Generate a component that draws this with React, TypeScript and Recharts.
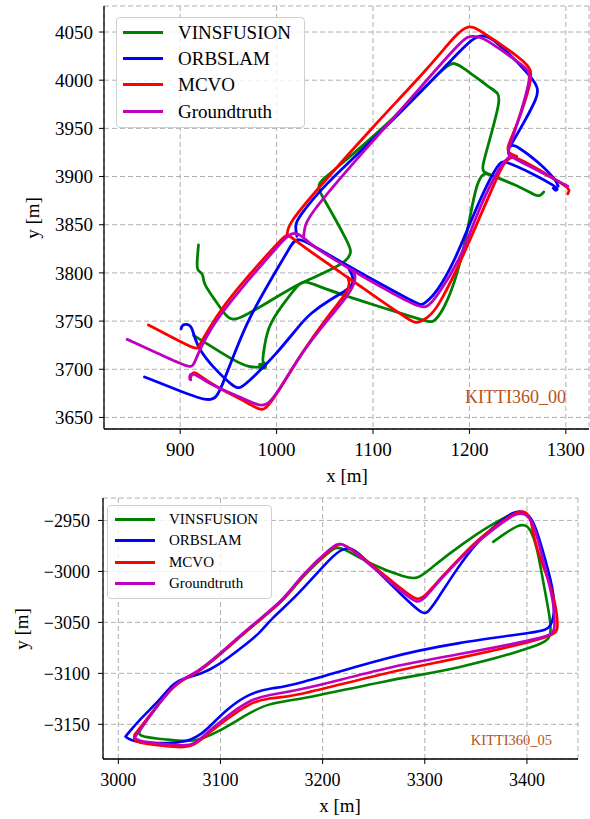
import { LineChart, Line, XAxis, YAxis, CartesianGrid, Legend } from 'recharts'

const FONT = '"Liberation Serif", "Times New Roman", serif'

type Pt = [number, number]

const SERIES_NAMES = ['VINSFUSION', 'ORBSLAM', 'MCVO', 'Groundtruth']
const SERIES_COLORS = ['#008000', '#0000ff', '#ff0000', '#bf00bf']
const TAG_COLOR = '#b5531c'

// ── KITTI360_00 : x / y in metres, one array per drawn stretch ──
const vins00: Pt[][] = [
  [[919, 3829], [918, 3818], [917, 3803], [921, 3801], [924, 3798], [924, 3789], [934, 3775], [948, 3754], [955, 3751], [965, 3754], [995, 3772], [1024, 3789], [1034, 3793], [1062, 3806], [1073, 3813], [1078, 3822], [1075, 3830], [1052, 3872], [1045, 3883], [1043, 3892], [1048, 3897], [1055, 3903], [1117, 3955], [1176, 4016], [1183, 4018], [1190, 4016], [1221, 3992], [1230, 3987], [1232, 3979], [1221, 3938], [1213, 3910], [1214, 3905], [1221, 3902], [1256, 3888], [1268, 3880], [1274, 3880], [1277, 3884]],
  [[914, 3735], [943, 3717], [972, 3699], [996, 3705], [976, 3706], [994, 3702], [979, 3700], [990, 3706], [985, 3707], [986, 3713], [990, 3744], [1007, 3768], [1021, 3786], [1028, 3793], [1048, 3784], [1100, 3767], [1145, 3753], [1159, 3749], [1163, 3749], [1173, 3761], [1186, 3793], [1196, 3834], [1203, 3871], [1208, 3893], [1214, 3904], [1221, 3902]],
]
const orb00: Pt[][] = [
  [[863, 3692], [896, 3679], [929, 3666], [938, 3671], [943, 3682], [955, 3713], [969, 3748], [986, 3779], [1000, 3803], [1014, 3827], [1021, 3838], [1038, 3828], [1073, 3808], [1107, 3789], [1142, 3770], [1149, 3767], [1152, 3767], [1166, 3779], [1185, 3813], [1201, 3853], [1219, 3894], [1232, 3916], [1237, 3916], [1266, 3903], [1289, 3890], [1292, 3887], [1289, 3885], [1287, 3888]],
  [[1021, 3838], [1019, 3850], [1023, 3858], [1048, 3890], [1100, 3938], [1152, 3990], [1183, 4023], [1204, 4044], [1213, 4047], [1225, 4044], [1266, 4002], [1271, 3992], [1271, 3983], [1256, 3955], [1242, 3931], [1240, 3928], [1243, 3933], [1249, 3932], [1273, 3914], [1290, 3896], [1292, 3890]],
  [[901, 3742], [902, 3746], [907, 3747], [911, 3745], [913, 3740], [915, 3733], [920, 3720], [934, 3702], [955, 3682], [962, 3679], [976, 3692], [1000, 3716], [1024, 3746], [1035, 3758], [1055, 3772], [1073, 3782], [1080, 3789], [1079, 3797], [1074, 3806]],
]
const mcvo00: Pt[][] = [
  [[867, 3746], [892, 3733], [917, 3720], [919, 3723], [929, 3741], [943, 3763], [963, 3788], [984, 3812], [1004, 3834], [1011, 3840], [1014, 3838], [1038, 3820], [1073, 3796], [1107, 3772], [1135, 3753], [1142, 3749], [1146, 3748], [1156, 3753], [1166, 3762], [1187, 3803], [1209, 3854], [1229, 3900], [1235, 3913], [1242, 3920], [1249, 3921], [1301, 3890], [1304, 3886], [1302, 3882]],
  [[1011, 3840], [1012, 3851], [1045, 3890], [1100, 3952], [1159, 4014], [1187, 4049], [1199, 4057], [1208, 4054], [1256, 4021], [1265, 4011], [1263, 3994], [1249, 3952], [1239, 3931], [1240, 3924], [1249, 3921]],
  [[910, 3690], [912, 3694], [914, 3699], [931, 3685], [965, 3668], [983, 3657], [990, 3659], [1007, 3685], [1024, 3714], [1055, 3758], [1073, 3779], [1076, 3789], [1074, 3795]],
]
const gt00: Pt[][] = [
  [[845, 3731], [878, 3716], [910, 3701], [914, 3704], [920, 3720], [931, 3741], [945, 3761], [965, 3786], [986, 3810], [1004, 3831], [1013, 3840], [1020, 3842], [1028, 3837], [1038, 3827], [1073, 3806], [1107, 3786], [1149, 3763], [1157, 3765], [1166, 3775], [1190, 3813], [1205, 3854], [1221, 3891], [1235, 3915], [1241, 3920]],
  [[1028, 3837], [1029, 3848], [1034, 3860], [1073, 3907], [1128, 3968], [1192, 4042], [1200, 4046], [1210, 4045], [1218, 4042], [1259, 4013], [1263, 4007], [1261, 3993], [1252, 3962], [1244, 3938], [1239, 3924], [1242, 3921], [1266, 3909], [1302, 3890]],
  [[911, 3689], [909, 3693], [913, 3697], [927, 3687], [941, 3680], [965, 3670], [983, 3661], [993, 3664], [1009, 3689], [1028, 3720], [1055, 3754], [1073, 3775], [1081, 3789], [1082, 3798], [1078, 3803]],
]
const x00Ticks = [900, 1000, 1100, 1200, 1300]
const y00Ticks = [3650, 3700, 3750, 3800, 3850, 3900, 3950, 4000, 4050]

// ── KITTI360_05 ──
const vins05: Pt[][] = [
  [[3367, -2971], [3381, -2961], [3391, -2955], [3397, -2954], [3403, -2957], [3410, -2976], [3416, -3011], [3423, -3047], [3424, -3064], [3416, -3072], [3331, -3096], [3266, -3106], [3178, -3126], [3146, -3129], [3123, -3142], [3097, -3158], [3074, -3168], [3048, -3165], [3021, -3162], [3019, -3158], [3031, -3141], [3048, -3119], [3061, -3106], [3077, -3100], [3097, -3084], [3129, -3055], [3162, -3029], [3178, -3007], [3210, -2977], [3217, -2975], [3250, -2995], [3282, -3006], [3292, -3008], [3305, -2998], [3322, -2984], [3351, -2963], [3374, -2949], [3390, -2942]],
]
const orb05: Pt[][] = [
  [[3007, -3162], [3021, -3145], [3041, -3126], [3054, -3109], [3067, -3104], [3080, -3101], [3097, -3093], [3123, -3073], [3139, -3060], [3149, -3047], [3175, -3024], [3211, -2983], [3220, -2978], [3227, -2977], [3234, -2980], [3282, -3028], [3297, -3041], [3302, -3042], [3312, -3028], [3331, -2998], [3351, -2971], [3371, -2953], [3387, -2941], [3397, -2941], [3404, -2947], [3410, -2960], [3421, -2999], [3428, -3028], [3425, -3056], [3413, -3059], [3331, -3070], [3266, -3083], [3168, -3113], [3152, -3114], [3129, -3119], [3106, -3135], [3087, -3155], [3071, -3168], [3031, -3169], [3012, -3166], [3007, -3162]],
]
const mcvo05: Pt[][] = [
  [[3016, -3160], [3031, -3141], [3048, -3119], [3061, -3107], [3077, -3100], [3097, -3084], [3129, -3055], [3162, -3029], [3178, -3006], [3211, -2975], [3218, -2972], [3228, -2977], [3283, -3022], [3292, -3028], [3299, -3026], [3315, -3007], [3338, -2983], [3354, -2967], [3377, -2950], [3391, -2941], [3398, -2941], [3404, -2947], [3408, -2975], [3420, -3005], [3428, -3030], [3431, -3057], [3427, -3064], [3331, -3086], [3266, -3098], [3168, -3124], [3146, -3124], [3129, -3129], [3106, -3145], [3087, -3160], [3074, -3171], [3064, -3173], [3041, -3171], [3018, -3168], [3015, -3164], [3016, -3160]],
]
const gt05: Pt[][] = [
  [[3018, -3160], [3031, -3142], [3048, -3119], [3061, -3106], [3077, -3099], [3097, -3083], [3129, -3054], [3162, -3028], [3178, -3005], [3211, -2974], [3217, -2972], [3227, -2977], [3282, -3024], [3292, -3031], [3299, -3028], [3315, -3008], [3338, -2984], [3354, -2969], [3377, -2951], [3390, -2943], [3397, -2943], [3405, -2949], [3410, -2966], [3419, -3002], [3426, -3028], [3428, -3059], [3423, -3064], [3331, -3082], [3266, -3093], [3178, -3117], [3146, -3121], [3129, -3126], [3106, -3142], [3087, -3158], [3074, -3170], [3064, -3171], [3041, -3169], [3018, -3166], [3016, -3163], [3018, -3160]],
]
const x05Ticks = [3000, 3100, 3200, 3300, 3400]
const y05Ticks = [-3150, -3100, -3050, -3000, -2950]

const fmtTick = (v: number) => (v < 0 ? `\u2212${Math.abs(v)}` : `${v}`)

interface LegendSpec {
  left: number; top: number; width: number; height: number
  font: number; rowH: number; padTop: number; padLeft: number; lineLen: number; gap: number
}

const LegendBox = ({ spec }: { spec: LegendSpec }) => (
  <div style={{
    width: spec.width, height: spec.height, boxSizing: 'border-box',
    background: 'rgba(255,255,255,0.8)', border: '1px solid #d0d0d0', borderRadius: 4,
    paddingTop: spec.padTop, paddingLeft: spec.padLeft, fontFamily: FONT, fontSize: spec.font, color: '#000',
  }}>
    {SERIES_NAMES.map((name, i) => (
      <div key={name} style={{ display: 'flex', alignItems: 'center', height: spec.rowH, lineHeight: 1 }}>
        <span style={{ display: 'inline-block', width: spec.lineLen, height: 3, background: SERIES_COLORS[i], marginRight: spec.gap }} />
        <span>{name}</span>
      </div>
    ))}
  </div>
)

interface PanelProps {
  top: number
  height: number
  margin: { top: number; right: number; bottom: number; left: number }
  yAxisWidth: number
  xAxisHeight: number
  xDomain: [number, number]
  yDomain: [number, number]
  xTicks: number[]
  yTicks: number[]
  series: Pt[][][]
  tickFont: number
  yTickMargin: number
  xTickMargin: number
  lineWidth: number
  legend: LegendSpec
  tag: { text: string; right: number; top: number; size: number }
  xTitle: { cx: number; cy: number; size: number }
  yTitle: { cx: number; cy: number; size: number }
}

function Panel(p: PanelProps) {
  const tick = { fontSize: p.tickFont, fill: '#000', fontFamily: FONT }
  return (
    <div style={{ position: 'absolute', left: 0, top: p.top, width: 590, height: p.height }}>
      <LineChart width={590} height={p.height} margin={p.margin}>
        <CartesianGrid stroke="#b0b0b0" strokeDasharray="5 3" strokeWidth={1} />
        <XAxis
          type="number" dataKey="x" domain={p.xDomain} ticks={p.xTicks} interval={0} allowDataOverflow
          height={p.xAxisHeight} tick={tick} tickSize={5} tickMargin={p.xTickMargin}
          tickLine={{ stroke: '#000' }} axisLine={{ stroke: '#000', strokeWidth: 1.3 }} tickFormatter={fmtTick}
        />
        <XAxis xAxisId="top" orientation="top" type="number" domain={p.xDomain} allowDataOverflow
          height={0} tick={false} tickLine={false} axisLine={{ stroke: '#000', strokeWidth: 1.3 }} />
        <YAxis
          type="number" domain={p.yDomain} ticks={p.yTicks} interval={0} allowDataOverflow
          width={p.yAxisWidth} tick={tick} tickSize={5} tickMargin={p.yTickMargin}
          tickLine={{ stroke: '#000' }} axisLine={{ stroke: '#000', strokeWidth: 1.3 }} tickFormatter={fmtTick}
        />
        <YAxis yAxisId="right" orientation="right" type="number" domain={p.yDomain} allowDataOverflow
          width={0} tick={false} tickLine={false} axisLine={{ stroke: '#000', strokeWidth: 1.3 }} />
        {p.series.flatMap((segs, si) => segs.map((seg, k) => (
          <Line
            key={`${si}-${k}`}
            data={seg.map(([x, y]) => ({ x, y }))}
            dataKey="y" type="basis" stroke={SERIES_COLORS[si]} strokeWidth={p.lineWidth}
            strokeLinejoin="round" strokeLinecap="round"
            dot={false} activeDot={false} legendType="none" isAnimationActive={false}
          />
        )))}
        <Legend
          layout="vertical" verticalAlign="middle" align="center"
          wrapperStyle={{ left: p.legend.left, top: p.legend.top, width: p.legend.width, height: p.legend.height }}
          content={() => <LegendBox spec={p.legend} />}
        />
      </LineChart>
      <div style={{ position: 'absolute', right: 590 - p.tag.right, top: p.tag.top, fontFamily: FONT, fontSize: p.tag.size, lineHeight: 1, color: TAG_COLOR, whiteSpace: 'nowrap' }}>
        {p.tag.text}
      </div>
      <div style={{ position: 'absolute', left: p.xTitle.cx, top: p.xTitle.cy, transform: 'translate(-50%, -50%)', fontFamily: FONT, fontSize: p.xTitle.size, lineHeight: 1, whiteSpace: 'nowrap' }}>
        x [m]
      </div>
      <div style={{ position: 'absolute', left: p.yTitle.cx, top: p.yTitle.cy, transform: 'translate(-50%, -50%) rotate(-90deg)', fontFamily: FONT, fontSize: p.yTitle.size, lineHeight: 1, whiteSpace: 'nowrap' }}>
        y [m]
      </div>
    </div>
  )
}

export default function App() {
  return (
    <div style={{ position: 'absolute', left: 0, top: 0, width: 590, height: 819, background: '#fff' }}>
      <Panel
        top={0} height={490} margin={{ top: 6, right: 1, bottom: 0, left: 0 }}
        yAxisWidth={104} xAxisHeight={61}
        xDomain={[821, 1324]} yDomain={[3638, 4077]} xTicks={x00Ticks} yTicks={y00Ticks}
        series={[vins00, orb00, mcvo00, gt00]}
        tickFont={19} yTickMargin={6} xTickMargin={9} lineWidth={2.8}
        legend={{ left: 116, top: 17, width: 189, height: 111, font: 19, rowH: 26.4, padTop: 1, padLeft: 6, lineLen: 40, gap: 15 }}
        tag={{ text: 'KITTI360_00', right: 566, top: 388, size: 18 }}
        xTitle={{ cx: 347, cy: 475, size: 19 }}
        yTitle={{ cx: 31.5, cy: 218, size: 19 }}
      />
      <Panel
        top={490} height={329} margin={{ top: 8, right: 12, bottom: 0, left: 0 }}
        yAxisWidth={103} xAxisHeight={60}
        xDomain={[2985, 3450]} yDomain={[-3184, -2928]} xTicks={x05Ticks} yTicks={y05Ticks}
        series={[vins05, orb05, mcvo05, gt05]}
        tickFont={18} yTickMargin={8} xTickMargin={9} lineWidth={2.6}
        legend={{ left: 107, top: 15, width: 165, height: 94, font: 15, rowH: 21.3, padTop: 3, padLeft: 7, lineLen: 40, gap: 14 }}
        tag={{ text: 'KITTI360_05', right: 552, top: 243, size: 14.5 }}
        xTitle={{ cx: 340, cy: 315, size: 19 }}
        yTitle={{ cx: 20.5, cy: 139, size: 19 }}
      />
    </div>
  )
}
